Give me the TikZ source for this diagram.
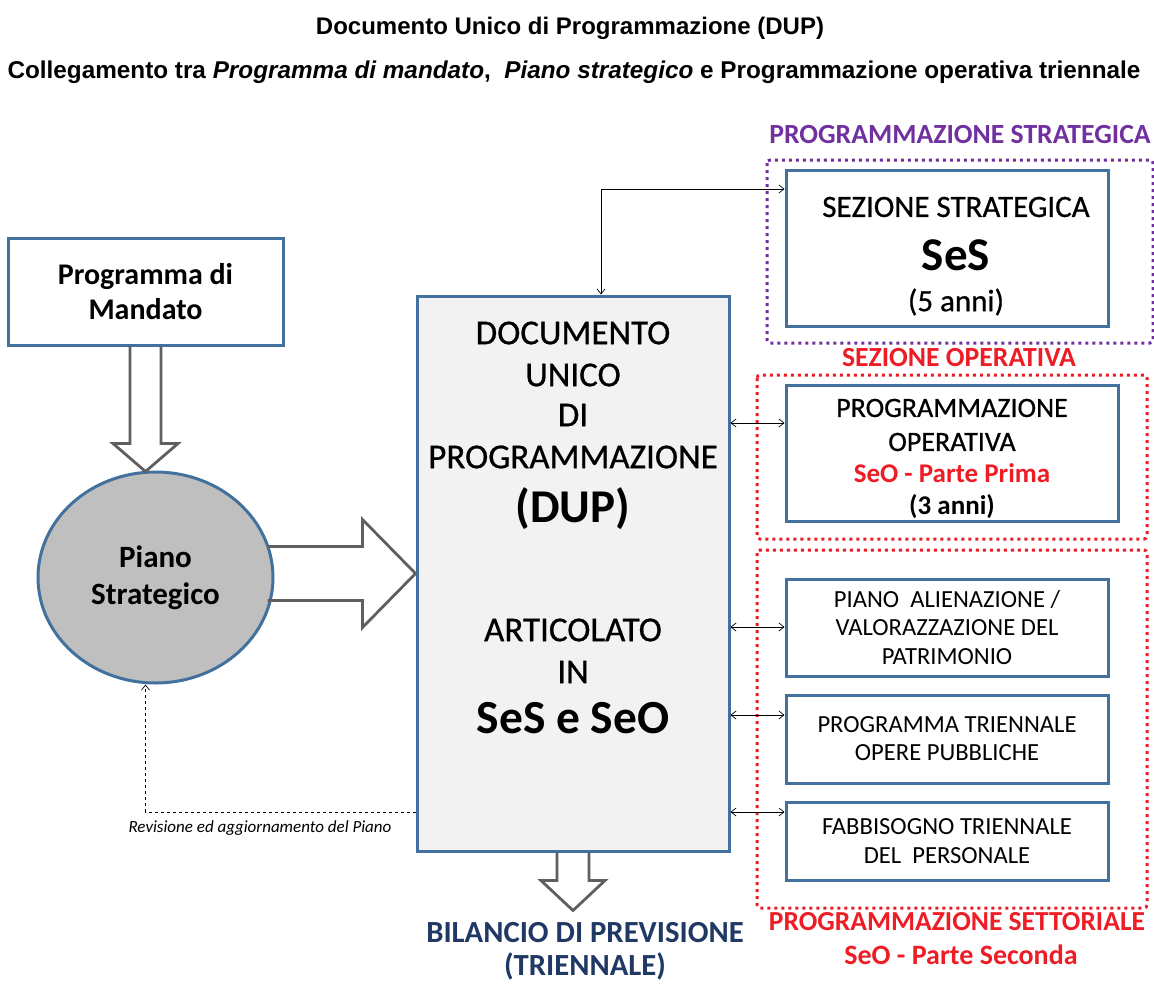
\documentclass[tikz,border=0pt]{standalone}
\usepackage{fontspec}
\setmainfont{Carlito}
\newfontfamily\heavyfont[FakeBold=0.7]{Carlito}
\newfontfamily\titlefont{Liberation Sans}
\usetikzlibrary{shapes.geometric,calc,arrows.meta}
\definecolor{boxblue}{HTML}{41719C}
\definecolor{arrowgray}{HTML}{5F5F5F}
\definecolor{circgray}{HTML}{BFBFBF}
\definecolor{dupgray}{HTML}{F2F2F2}
\definecolor{stratpurple}{HTML}{7030A0}
\definecolor{operred}{HTML}{EE1C25}
\definecolor{bilnavy}{HTML}{1F3864}
\newcommand\fsz[2]{\fontsize{#1}{#2}\selectfont}

\begin{document}
\begin{tikzpicture}[x=1pt,y=-1pt,
  box/.style={draw=boxblue,line width=3pt,inner sep=0pt,align=center},
  hollow/.style={draw=arrowgray,line width=2.8pt,line join=miter},
  frame/.style={line width=3pt,dash pattern=on 3pt off 4pt,rounded corners=3pt},
  link/.style={black,line width=0.7pt,>={Straight Barb[length=5pt,width=8pt]}}]
\useasboundingbox (0,0) rectangle (1154,985);
% titles
\node[font=\titlefont\bfseries\fsz{24}{28}] (title) at (570,28) {Documento Unico di Programmazione (DUP)};
\node[font=\titlefont\bfseries\fsz{24.3}{28}] (subtitle) at (574,72)
  {Collegamento tra \textit{Programma di mandato},\ \ \textit{Piano strategico} e Programmazione operativa triennale};
% dotted frames
\draw[frame,stratpurple] (767,160) rectangle (1153,343);
\draw[frame,operred] (757,375) rectangle (1147,539);
\draw[frame,operred] (757,550) rectangle (1147,908);
\node[font=\bfseries\fsz{27.7}{30},text=stratpurple] (stratlabel) at (960,135) {PROGRAMMAZIONE STRATEGICA};
\node[font=\bfseries\fsz{27.7}{30},text=operred] (operlabel) at (959,358) {SEZIONE OPERATIVA};
\node[font=\bfseries\fsz{27.5}{30},text=operred] (settlabel) at (957,922) {PROGRAMMAZIONE SETTORIALE};
\node[font=\bfseries\fsz{28}{30},text=operred] (partelabel) at (961,955) {SeO - Parte Seconda};
% left side
\node[box,minimum width=275pt,minimum height=107pt,font=\bfseries\fsz{30}{35}] (mandato) at (145.5,291.5) {Programma di\\Mandato};
\node[ellipse,draw=boxblue,line width=3pt,fill=circgray,minimum width=235pt,minimum height=211pt,
  inner sep=0pt,align=center,font=\bfseries\fsz{31}{37}] (piano) at (155.5,577.5) {Piano\\Strategico};
% DUP
\node[box,fill=dupgray,minimum width=312pt,minimum height=555pt] (dup) at (573,573.5) {};
\foreach \y/\t in {333/DOCUMENTO,375/UNICO,415/DI,457/PROGRAMMAZIONE,630/ARTICOLATO,672/IN}
  \node[font=\heavyfont\fsz{35}{40}] (dupline\y) at (573,\y) {\t};
\node[font=\bfseries\fsz{47}{50}] (duptag) at (573,509) {(DUP)};
\node[font=\bfseries\fsz{47.5}{50}] (dupsplit) at (573,718) {SeS e SeO};
\node[font=\bfseries\fsz{30.7}{33},text=bilnavy,align=center] (bilancio) at (585,951) {BILANCIO DI PREVISIONE\\(TRIENNALE)};
% sections
\node[box,minimum width=322pt,minimum height=156pt] (ses) at (947,248) {};
\node[font=\heavyfont\fsz{31}{32}] (sestitle) at (956,207) {SEZIONE STRATEGICA};
\node[font=\bfseries\fsz{47}{48}] (sestag) at (956,255) {SeS};
\node[font=\heavyfont\fsz{31}{32}] (sesyears) at (956,302) {(5 anni)};
\node[box,minimum width=332pt,minimum height=136pt] (seo) at (952,453) {};
\node[font=\heavyfont\fsz{28}{30}] (seotitle1) at (952,408) {PROGRAMMAZIONE};
\node[font=\heavyfont\fsz{28}{30}] (seotitle2) at (952,442) {OPERATIVA};
\node[font=\bfseries\fsz{27}{30},text=operred] (seotag) at (952,473) {SeO - Parte Prima};
\node[font=\bfseries\fsz{27}{30}] (seoyears) at (952,507) {(3 anni)};
\node[box,minimum width=322pt,minimum height=97pt,font=\fsz{24.6}{28.5}] (alien) at (947,627.5) {PIANO\ \ ALIENAZIONE /\\VALORAZZAZIONE DEL\\PATRIMONIO};
\node[box,minimum width=322pt,minimum height=88pt,font=\fsz{24.6}{28}] (opere) at (947,739) {PROGRAMMA TRIENNALE\\OPERE PUBBLICHE};
\node[box,minimum width=322pt,minimum height=78pt,font=\fsz{24.6}{29}] (fabb) at (947,841) {FABBISOGNO TRIENNALE\\DEL\ \ PERSONALE};
% block arrows
\draw[hollow] ([xshift=-15.5pt]mandato.south) -- ++(0,97) -- ++(-17,0) -- ++(32.5,28) -- ++(32.5,-28) -- ++(-17,0) -- ++(0,-97);
\draw[hollow] ([shift={(-148pt,27pt)}]dup.west) -- ++(95,0) -- ++(0,-27) -- ++(53,54) -- ++(-53,54) -- ++(0,-27) -- ++(-95,0);
\draw[hollow] ([xshift=-16pt]dup.south) -- ++(0,28) -- ++(-16,0) -- ++(32,30) -- ++(32,-30) -- ++(-16,0) -- ++(0,-28);
% links
\draw[link,<->] (dup.north -| 601,0) |- (ses.west |- 0,189);
\foreach \b/\y in {seo/423,alien/627,opere/715,fabb/812}
  \draw[link,<->] (dup.east |- 0,\y) -- (\b.west |- 0,\y);
\draw[link,dashed,->] (dup.west |- 0,812) -| ([xshift=-10pt]piano.south);
\node[font=\itshape\fsz{17}{18}] (revlabel) at (260,828) {Revisione ed aggiornamento del Piano};
\end{tikzpicture}
\end{document}
